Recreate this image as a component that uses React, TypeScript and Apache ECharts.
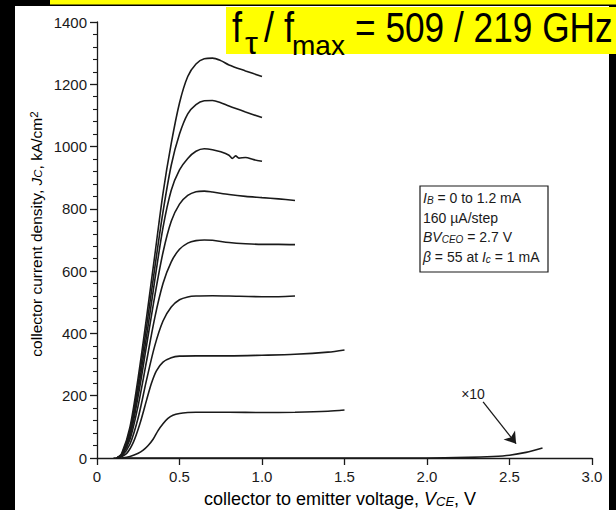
import React, { useEffect, useRef } from "react";
import * as echarts from "echarts";

// V_CE (V) , J_C (kA/cm^2), one array per base-current step
const curveIb0: number[][] = [[0.1,0],[0.5,0],[1.0,0],[1.5,0],[2.0,0],[2.25,2],[2.4,5],[2.5,9],[2.6,18],[2.7,32]];
const curve1: number[][] = [[0.15,0],[0.2,5],[0.25,15],[0.28,25],[0.31,40],[0.34,60],[0.37,88],[0.4,110],[0.43,127],[0.46,137],[0.5,143],[0.55,146],[0.6,147],[0.8,147],[1.0,146],[1.2,147],[1.4,150],[1.5,154]];
const curve2: number[][] = [[0.13,0],[0.18,15],[0.22,50],[0.26,110],[0.3,185],[0.33,240],[0.36,280],[0.4,308],[0.45,322],[0.5,327],[0.6,328],[0.8,328],[1.0,330],[1.2,333],[1.4,340],[1.5,347]];
const curve3: number[][] = [[0.12,0],[0.15,6],[0.2,45],[0.25,130],[0.3,250],[0.35,360],[0.4,440],[0.45,485],[0.5,508],[0.55,517],[0.6,520],[0.7,521],[0.8,520],[1.0,518],[1.1,518],[1.2,520]];
const curve4: number[][] = [[0.12,0],[0.15,8],[0.2,60],[0.25,170],[0.3,310],[0.35,450],[0.4,560],[0.45,630],[0.5,670],[0.55,690],[0.6,698],[0.65,700],[0.7,699],[0.8,692],[0.9,688],[1.0,686],[1.1,686],[1.2,685]];
const curve5: number[][] = [[0.12,0],[0.15,10],[0.2,70],[0.25,200],[0.3,360],[0.35,520],[0.4,660],[0.45,760],[0.5,815],[0.55,843],[0.6,855],[0.65,857],[0.7,854],[0.8,846],[0.9,840],[1.0,836],[1.1,832],[1.2,827]];
const curve6: number[][] = [[0.12,0],[0.15,10],[0.2,80],[0.25,220],[0.3,390],[0.35,570],[0.4,740],[0.45,860],[0.5,925],[0.55,962],[0.6,985],[0.65,993],[0.7,990],[0.75,983],[0.8,972],[0.82,962],[0.84,970],[0.86,963],[0.9,965],[0.95,958],[1.0,953]];
const curve7: number[][] = [[0.12,0],[0.15,12],[0.2,90],[0.25,240],[0.3,420],[0.35,610],[0.4,790],[0.45,940],[0.5,1040],[0.55,1105],[0.6,1135],[0.65,1147],[0.7,1148],[0.75,1141],[0.8,1130],[0.9,1111],[1.0,1093]];
const curve8: number[][] = [[0.12,0],[0.15,15],[0.2,100],[0.25,260],[0.3,450],[0.35,650],[0.4,850],[0.45,1010],[0.5,1140],[0.55,1225],[0.6,1265],[0.65,1282],[0.7,1284],[0.75,1276],[0.8,1262],[0.9,1243],[1.0,1225]];

const arrowFrom = [2.34, 180];
const arrowTo = [2.54, 46];

const legendLines = [
  "{i|I}{sub|B} = 0 to 1.2 mA",
  "160 µA/step",
  "{i|BV}{isub|CEO} = 2.7 V",
  "{i|β} = 55 at {i|I}{sub|c} = 1 mA",
];

const FONT = "'Liberation Sans', Arial, Helvetica, sans-serif";
const INK = "#1a1a1a";

export default function App() {
  const ref = useRef<HTMLDivElement>(null);
  useEffect(() => {
    if (!ref.current) return;
    const chart = echarts.init(ref.current, undefined, { renderer: "svg", width: 616, height: 510 });
    const curves = [curveIb0, curve1, curve2, curve3, curve4, curve5, curve6, curve7, curve8];
    const series: any[] = curves.map((d, i) => ({
      type: "line",
      data: d,
      showSymbol: false,
      smooth: 0.3,
      lineStyle: { color: INK, width: 1.6 },
      z: 3,
      ...(i === 0
        ? {
            markLine: {
              silent: true,
              symbol: ["none", "arrow"],
              symbolSize: 11,
              label: { show: false },
              itemStyle: { color: INK },
              lineStyle: { color: INK, width: 1.3, type: "solid" },
              data: [[{ coord: arrowFrom }, { coord: arrowTo }]],
            },
          }
        : {}),
    }));
    const richSmall = {
      i: { fontFamily: FONT, fontSize: 14, fontStyle: "italic", color: INK },
      n: { fontFamily: FONT, fontSize: 14, color: INK },
      sub: { fontFamily: FONT, fontSize: 10, fontStyle: "italic", color: INK, lineHeight: 4, verticalAlign: "bottom" },
      isub: { fontFamily: FONT, fontSize: 10, fontStyle: "italic", color: INK, lineHeight: 4, verticalAlign: "bottom" },
    };
    const big = (text: string, x: number, yBottom: number, size: number, sx: number) => ({
      type: "text",
      z: 21,
      x,
      y: yBottom,
      scaleX: sx,
      style: { text, fontFamily: FONT, fontSize: size, fill: "#000", verticalAlign: "bottom", align: "left" },
    });
    const option: any = {
      animation: false,
      backgroundColor: "#000",
      grid: { left: 97, right: 24, top: 22, bottom: 52 },
      xAxis: {
        type: "value",
        min: 0,
        max: 3,
        interval: 0.5,
        axisLine: { show: true, onZero: false, lineStyle: { color: INK, width: 1.3 } },
        axisTick: { show: true, inside: false, length: 7, lineStyle: { color: INK, width: 1.3 } },
        axisLabel: {
          fontSize: 15,
          fontFamily: FONT,
          color: INK,
          margin: 11,
          formatter: (v: number) => (v === 0 ? "0" : v.toFixed(1)),
        },
        splitLine: { show: false },
      },
      yAxis: {
        type: "value",
        min: 0,
        max: 1400,
        interval: 200,
        axisLine: { show: true, onZero: false, lineStyle: { color: INK, width: 1.3 } },
        axisTick: { show: true, inside: false, length: 7, lineStyle: { color: INK, width: 1.3 } },
        minorTick: { show: true, splitNumber: 5, length: 4, lineStyle: { color: INK, width: 1.1 } },
        axisLabel: { fontSize: 15, fontFamily: FONT, color: INK, margin: 10, formatter: (v: number) => String(v) },
        splitLine: { show: false },
      },
      series,
      graphic: [
        { type: "rect", z: -10, shape: { x: 15, y: 6, width: 594, height: 504 }, style: { fill: "#fff" } },
        { type: "rect", z: -9, shape: { x: 50, y: 0, width: 566, height: 4.5 }, style: { fill: "#ffff00" } },
        { type: "rect", z: 20, shape: { x: 226, y: 7, width: 390, height: 47 }, style: { fill: "#ffff00" } },
        big("f", 232, 48, 43, 0.84),
        big("τ", 245, 59, 31, 1.05),
        big("/ f", 264, 48, 43, 0.84),
        big("max", 292, 59, 28, 1),
        big("= 509 / 219 GHz", 355, 48, 43, 0.82),
        { type: "rect", z: 5, shape: { x: 420, y: 186, width: 128, height: 86 }, style: { fill: "#fff", stroke: INK, lineWidth: 1.2 } },
        ...legendLines.map((t, k) => ({
          type: "text",
          z: 6,
          x: 423,
          y: 198 + k * 19.7,
          style: { text: t, rich: richSmall, fontFamily: FONT, fontSize: 14, fill: INK, verticalAlign: "middle", align: "left" },
        })),
        {
          type: "text",
          z: 6,
          x: 473,
          y: 394,
          style: { text: "×10", fontFamily: FONT, fontSize: 14, fill: INK, align: "center", verticalAlign: "middle" },
        },
        {
          type: "text",
          z: 6,
          x: 340,
          y: 499,
          style: {
            text: "{n|collector to emitter voltage, }{i|V}{sub|CE}{n|, V}",
            align: "center",
            verticalAlign: "middle",
            rich: {
              n: { fontFamily: FONT, fontSize: 18, color: INK },
              i: { fontFamily: FONT, fontSize: 18, fontStyle: "italic", color: INK },
              sub: { fontFamily: FONT, fontSize: 13, fontStyle: "italic", color: INK, lineHeight: 4, verticalAlign: "bottom" },
            },
          },
        },
        {
          type: "text",
          z: 6,
          x: 36,
          y: 234,
          rotation: Math.PI / 2,
          style: {
            text: "{n|collector current density, }{i|J}{sub|C}{n|, kA/cm}{sup|2}",
            align: "center",
            verticalAlign: "middle",
            rich: {
              n: { fontFamily: FONT, fontSize: 15.5, color: INK },
              i: { fontFamily: FONT, fontSize: 15.5, fontStyle: "italic", color: INK },
              sub: { fontFamily: FONT, fontSize: 11.5, fontStyle: "italic", color: INK, lineHeight: 4, verticalAlign: "bottom" },
              sup: { fontFamily: FONT, fontSize: 11.5, color: INK, lineHeight: 4, verticalAlign: "top" },
            },
          },
        },
      ],
    };
    chart.setOption(option);
    return () => chart.dispose();
  }, []);
  return (
    <div
      ref={ref}
      style={{ position: "fixed", left: 0, top: 0, width: 616, height: 510, background: "#000" }}
    />
  );
}
